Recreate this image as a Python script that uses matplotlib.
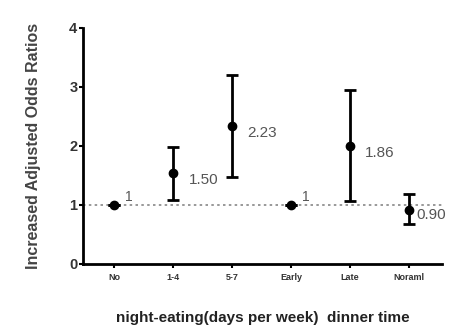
import matplotlib.pyplot as plt

plt.rcParams['font.family'] = ['Liberation Sans', 'DejaVu Sans']

# Odds ratios
groups = ['No', '1-4', '5-7', 'Early', 'Late', 'Noraml']
odds = [1.0, 1.54, 2.33, 1.0, 2.0, 0.92]
ci_low = [1.0, 1.08, 1.48, 1.0, 1.07, 0.67]
ci_high = [1.0, 1.98, 3.2, 1.0, 2.95, 1.18]
labels = ['1', '1.50', '2.23', '1', '1.86', '0.90']

fig = plt.figure(figsize=(4.51, 3.25), dpi=100)
ax = fig.add_axes([0.184, 0.188, 0.796, 0.726])

x = list(range(len(groups)))
err_lo = [o - l for o, l in zip(odds, ci_low)]
err_hi = [h - o for o, h in zip(odds, ci_high)]

ax.axhline(1, color='#888888', linestyle=(0, (1.5, 2)), linewidth=1.2, zorder=1)
ax.errorbar(x, odds, yerr=[err_lo, err_hi], fmt='o', color='black', markersize=6,
            ecolor='black', elinewidth=2, capsize=4, capthick=2, zorder=3)

# value labels next to each point
for i, (o, t) in enumerate(zip(odds, labels)):
    if t == '1':
        ax.annotate(t, (i, o), xytext=(8, 1), textcoords='offset points',
                    fontsize=10, color='#555555', va='bottom')
    elif groups[i] == 'Noraml':
        ax.annotate(t, (i, o), xytext=(5, -4), textcoords='offset points',
                    fontsize=11, color='#555555', va='center')
    else:
        ax.annotate(t, (i, o), xytext=(11, -5), textcoords='offset points',
                    fontsize=11, color='#555555', va='center')

ax.set_xlim(-0.53, 5.56)
ax.set_ylim(0, 4)
ax.set_yticks([0, 1, 2, 3, 4])
ax.set_xticks(x)
ax.set_xticklabels(groups, fontsize=6.5, color='#333333', fontweight='bold')
ax.tick_params(axis='y', labelsize=10.5, width=1.5, length=3, pad=1)
ax.tick_params(axis='x', width=1.5, length=3)
for lab in ax.get_yticklabels():
    lab.set_fontweight('bold')
    lab.set_color('#333333')

ax.spines['top'].set_visible(False)
ax.spines['right'].set_visible(False)
ax.spines['left'].set_linewidth(2)
ax.spines['bottom'].set_linewidth(2)

ax.set_ylabel('Increased Adjusted Odds Ratios', fontsize=11.5, color='#444444',
              fontweight='bold', labelpad=20)
ax.set_xlabel('night-eating(days per week)  dinner time', fontsize=11,
              color='#222222', fontweight='bold', labelpad=21)

fig.savefig('out.png', dpi=100)
